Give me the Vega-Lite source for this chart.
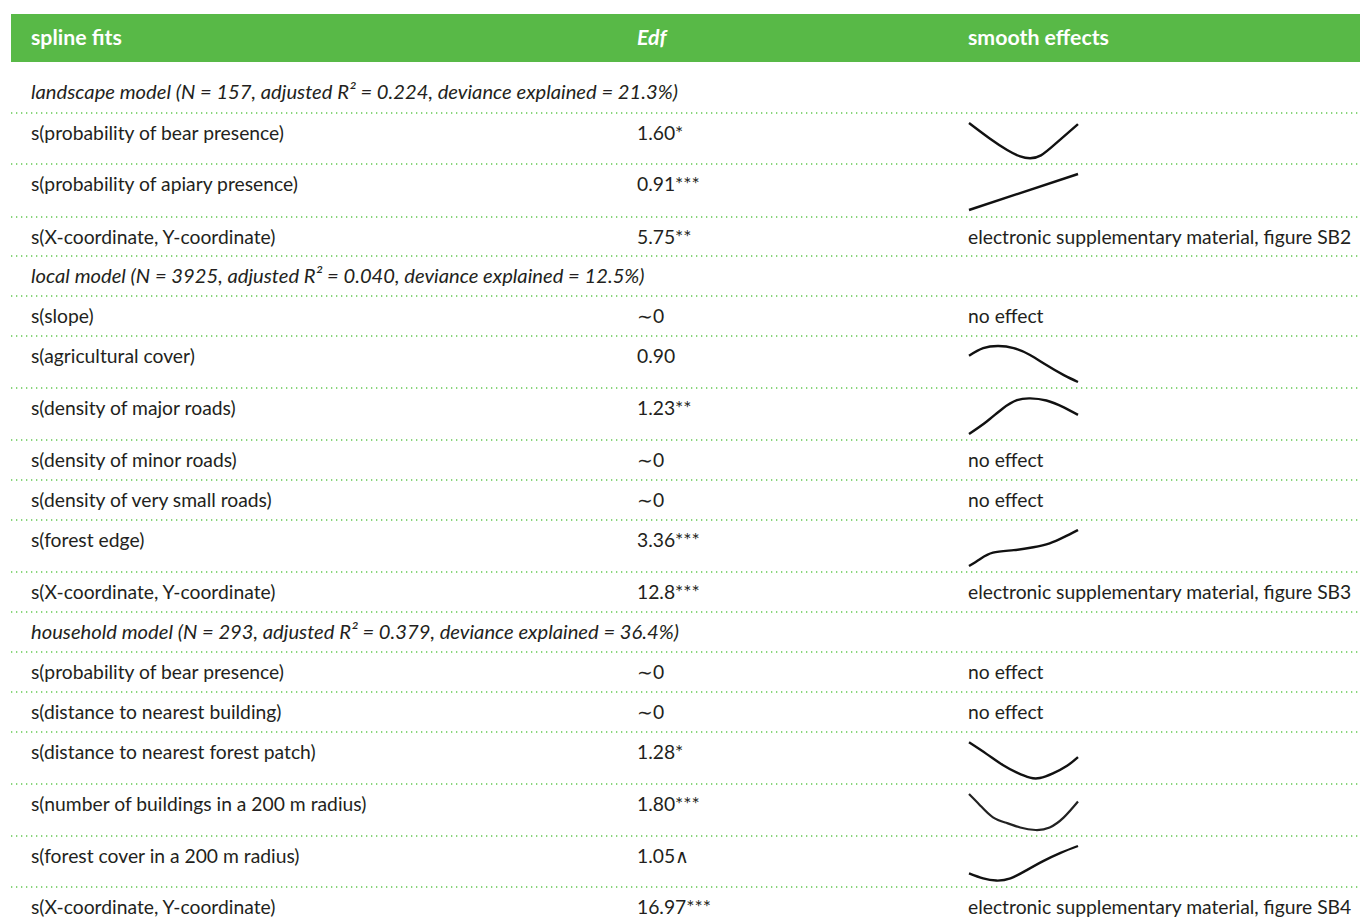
{
  "$schema": "https://vega.github.io/schema/vega-lite/v6.json",
  "width": 1360,
  "height": 921,
  "padding": 0,
  "autosize": {"type": "none"},
  "background": "white",
  "config": {
    "view": {"stroke": null},
    "text": {"font": "Liberation Sans Narrow, Lato, sans-serif", "fontSize": 19.3, "color": "#231f20", "align": "left", "baseline": "middle"},
    "line": {"color": "#111111", "strokeWidth": 2.4, "interpolate": "natural"}
  },
  "datasets": {
    "rows": [
      {"row": 0, "kind": "header", "label": "spline fits", "edf": "Edf", "effect": "smooth effects"},
      {"row": 1, "kind": "model", "label": "landscape model (N = 157, adjusted R² = 0.224, deviance explained = 21.3%)", "edf": "", "effect": ""},
      {"row": 2, "kind": "term", "label": "s(probability of bear presence)", "edf": "1.60*", "effect": ""},
      {"row": 3, "kind": "term", "label": "s(probability of apiary presence)", "edf": "0.91***", "effect": ""},
      {"row": 4, "kind": "term", "label": "s(X-coordinate, Y-coordinate)", "edf": "5.75**", "effect": "electronic supplementary material, figure SB2"},
      {"row": 5, "kind": "model", "label": "local model (N = 3925, adjusted R² = 0.040, deviance explained = 12.5%)", "edf": "", "effect": ""},
      {"row": 6, "kind": "term", "label": "s(slope)", "edf": "∼0", "effect": "no effect"},
      {"row": 7, "kind": "term", "label": "s(agricultural cover)", "edf": "0.90", "effect": ""},
      {"row": 8, "kind": "term", "label": "s(density of major roads)", "edf": "1.23**", "effect": ""},
      {"row": 9, "kind": "term", "label": "s(density of minor roads)", "edf": "∼0", "effect": "no effect"},
      {"row": 10, "kind": "term", "label": "s(density of very small roads)", "edf": "∼0", "effect": "no effect"},
      {"row": 11, "kind": "term", "label": "s(forest edge)", "edf": "3.36***", "effect": ""},
      {"row": 12, "kind": "term", "label": "s(X-coordinate, Y-coordinate)", "edf": "12.8***", "effect": "electronic supplementary material, figure SB3"},
      {"row": 13, "kind": "model", "label": "household model (N = 293, adjusted R² = 0.379, deviance explained = 36.4%)", "edf": "", "effect": ""},
      {"row": 14, "kind": "term", "label": "s(probability of bear presence)", "edf": "∼0", "effect": "no effect"},
      {"row": 15, "kind": "term", "label": "s(distance to nearest building)", "edf": "∼0", "effect": "no effect"},
      {"row": 16, "kind": "term", "label": "s(distance to nearest forest patch)", "edf": "1.28*", "effect": ""},
      {"row": 17, "kind": "term", "label": "s(number of buildings in a 200 m radius)", "edf": "1.80***", "effect": ""},
      {"row": 18, "kind": "term", "label": "s(forest cover in a 200 m radius)", "edf": "1.05∧", "effect": ""},
      {"row": 19, "kind": "term", "label": "s(X-coordinate, Y-coordinate)", "edf": "16.97***", "effect": "electronic supplementary material, figure SB4"}
    ],
    "curves": [
      {"row": 2, "t": 0.0, "f": 1.0}, {"row": 2, "t": 0.19, "f": 0.57}, {"row": 2, "t": 0.35, "f": 0.25}, {"row": 2, "t": 0.47, "f": 0.07}, {"row": 2, "t": 0.56, "f": 0.02}, {"row": 2, "t": 0.66, "f": 0.1}, {"row": 2, "t": 0.8, "f": 0.44}, {"row": 2, "t": 1.0, "f": 0.97},
      {"row": 3, "t": 0.0, "f": 0.0}, {"row": 3, "t": 1.0, "f": 1.0},
      {"row": 7, "t": 0.0, "f": 0.73}, {"row": 7, "t": 0.13, "f": 0.94}, {"row": 7, "t": 0.27, "f": 1.0}, {"row": 7, "t": 0.41, "f": 0.94}, {"row": 7, "t": 0.56, "f": 0.75}, {"row": 7, "t": 0.71, "f": 0.47}, {"row": 7, "t": 0.87, "f": 0.19}, {"row": 7, "t": 1.0, "f": 0.0},
      {"row": 8, "t": 0.0, "f": 0.0}, {"row": 8, "t": 0.16, "f": 0.34}, {"row": 8, "t": 0.31, "f": 0.71}, {"row": 8, "t": 0.44, "f": 0.94}, {"row": 8, "t": 0.56, "f": 0.99}, {"row": 8, "t": 0.71, "f": 0.93}, {"row": 8, "t": 0.87, "f": 0.74}, {"row": 8, "t": 1.0, "f": 0.53},
      {"row": 11, "t": 0.0, "f": 0.0}, {"row": 11, "t": 0.1, "f": 0.19}, {"row": 11, "t": 0.22, "f": 0.37}, {"row": 11, "t": 0.41, "f": 0.44}, {"row": 11, "t": 0.59, "f": 0.52}, {"row": 11, "t": 0.74, "f": 0.63}, {"row": 11, "t": 0.87, "f": 0.8}, {"row": 11, "t": 1.0, "f": 1.0},
      {"row": 16, "t": 0.0, "f": 0.99}, {"row": 16, "t": 0.16, "f": 0.67}, {"row": 16, "t": 0.31, "f": 0.36}, {"row": 16, "t": 0.44, "f": 0.15}, {"row": 16, "t": 0.56, "f": 0.01}, {"row": 16, "t": 0.65, "f": 0.0}, {"row": 16, "t": 0.77, "f": 0.13}, {"row": 16, "t": 0.9, "f": 0.34}, {"row": 16, "t": 1.0, "f": 0.58},
      {"row": 17, "t": 0.0, "f": 1.0}, {"row": 17, "t": 0.1, "f": 0.69}, {"row": 17, "t": 0.22, "f": 0.35}, {"row": 17, "t": 0.35, "f": 0.19}, {"row": 17, "t": 0.47, "f": 0.07}, {"row": 17, "t": 0.61, "f": 0.0}, {"row": 17, "t": 0.74, "f": 0.07}, {"row": 17, "t": 0.87, "f": 0.35}, {"row": 17, "t": 1.0, "f": 0.79},
      {"row": 18, "t": 0.0, "f": 0.24}, {"row": 18, "t": 0.13, "f": 0.1}, {"row": 18, "t": 0.25, "f": 0.04}, {"row": 18, "t": 0.38, "f": 0.1}, {"row": 18, "t": 0.53, "f": 0.33}, {"row": 18, "t": 0.68, "f": 0.58}, {"row": 18, "t": 0.84, "f": 0.81}, {"row": 18, "t": 1.0, "f": 1.0}
    ]
  },
  "resolve": {"scale": {"y": "independent"}},
  "layer": [
    {
      "data": {"name": "rows"},
      "layer": [
        {
          "transform": [{"filter": "datum.kind === 'header'"}],
          "mark": {"type": "rect", "color": "#58b947"},
          "encoding": {
            "x": {"datum": 0, "type": "quantitative", "scale": {"domain": [0, 1, 2, 3], "range": [11, 617, 948, 1360]}, "axis": null},
            "x2": {"datum": 3},
            "y": {"field": "row", "type": "quantitative", "scale": {"domain": [0, 0.83, 1, 2, 3, 4, 5, 6, 7, 8, 9, 10, 11, 12, 13, 14, 15, 16, 17, 18, 19, 20], "range": [14, 62, 72, 113, 164, 217, 256, 296, 336, 388, 440, 480, 520, 572, 612, 652, 692, 732, 784, 836, 887, 927]}, "axis": null},
            "y2": {"datum": 0.83}
          }
        },
        {
          "transform": [{"filter": "datum.kind === 'header'"}],
          "mark": {"type": "text", "color": "white", "fontWeight": "bold", "fontSize": 21.3, "dx": 20, "dy": 25},
          "encoding": {
            "x": {"datum": 0, "type": "quantitative"},
            "y": {"field": "row", "type": "quantitative"},
            "text": {"field": "label"}
          }
        },
        {
          "transform": [{"filter": "datum.kind === 'header'"}],
          "mark": {"type": "text", "color": "white", "fontWeight": "bold", "fontStyle": "italic", "fontSize": 21.3, "dx": 20, "dy": 25},
          "encoding": {
            "x": {"datum": 1, "type": "quantitative"},
            "y": {"field": "row", "type": "quantitative"},
            "text": {"field": "edf"}
          }
        },
        {
          "transform": [{"filter": "datum.kind === 'header'"}],
          "mark": {"type": "text", "color": "white", "fontWeight": "bold", "fontSize": 21.3, "dx": 20, "dy": 25},
          "encoding": {
            "x": {"datum": 2, "type": "quantitative"},
            "y": {"field": "row", "type": "quantitative"},
            "text": {"field": "effect"}
          }
        },
        {
          "transform": [{"filter": "datum.row >= 2"}],
          "mark": {"type": "rule", "color": "#62c750", "strokeWidth": 1.3, "strokeDash": [1.3, 3.7]},
          "encoding": {
            "x": {"datum": 0, "type": "quantitative"},
            "x2": {"datum": 3},
            "y": {"field": "row", "type": "quantitative"}
          }
        },
        {
          "transform": [{"filter": "datum.kind === 'model'"}],
          "mark": {"type": "text", "fontStyle": "italic", "fontSize": 20.2, "dx": 20, "dy": 21},
          "encoding": {
            "x": {"datum": 0, "type": "quantitative"},
            "y": {"field": "row", "type": "quantitative"},
            "text": {"field": "label"}
          }
        },
        {
          "transform": [{"filter": "datum.kind === 'term'"}],
          "mark": {"type": "text", "dx": 20, "dy": 21},
          "encoding": {
            "x": {"datum": 0, "type": "quantitative"},
            "y": {"field": "row", "type": "quantitative"},
            "text": {"field": "label"}
          }
        },
        {
          "transform": [{"filter": "datum.kind === 'term'"}],
          "mark": {"type": "text", "dx": 20, "dy": 21},
          "encoding": {
            "x": {"datum": 1, "type": "quantitative"},
            "y": {"field": "row", "type": "quantitative"},
            "text": {"field": "edf"}
          }
        },
        {
          "transform": [{"filter": "datum.kind === 'term' && datum.effect !== ''"}],
          "mark": {"type": "text", "dx": 20, "dy": 21},
          "encoding": {
            "x": {"datum": 2, "type": "quantitative"},
            "y": {"field": "row", "type": "quantitative"},
            "text": {"field": "effect"}
          }
        }
      ]
    },
    {
      "data": {"name": "curves"},
      "transform": [{"filter": "datum.row === 2"}],
      "mark": {"type": "line"},
      "encoding": {
        "x": {"datum": 2, "type": "quantitative"},
        "xOffset": {"field": "t", "type": "quantitative", "scale": {"domain": [0, 1], "range": [21, 130]}},
        "y": {"field": "f", "type": "quantitative", "scale": {"domain": [0, 1], "range": [159, 123]}, "axis": null},
        "order": {"field": "t", "type": "quantitative"}
      }
    },
    {
      "data": {"name": "curves"},
      "transform": [{"filter": "datum.row === 3"}],
      "mark": {"type": "line"},
      "encoding": {
        "x": {"datum": 2, "type": "quantitative"},
        "xOffset": {"field": "t", "type": "quantitative", "scale": {"domain": [0, 1], "range": [21, 130]}},
        "y": {"field": "f", "type": "quantitative", "scale": {"domain": [0, 1], "range": [210, 174]}, "axis": null},
        "order": {"field": "t", "type": "quantitative"}
      }
    },
    {
      "data": {"name": "curves"},
      "transform": [{"filter": "datum.row === 7"}],
      "mark": {"type": "line"},
      "encoding": {
        "x": {"datum": 2, "type": "quantitative"},
        "xOffset": {"field": "t", "type": "quantitative", "scale": {"domain": [0, 1], "range": [21, 130]}},
        "y": {"field": "f", "type": "quantitative", "scale": {"domain": [0, 1], "range": [382, 346]}, "axis": null},
        "order": {"field": "t", "type": "quantitative"}
      }
    },
    {
      "data": {"name": "curves"},
      "transform": [{"filter": "datum.row === 8"}],
      "mark": {"type": "line"},
      "encoding": {
        "x": {"datum": 2, "type": "quantitative"},
        "xOffset": {"field": "t", "type": "quantitative", "scale": {"domain": [0, 1], "range": [21, 130]}},
        "y": {"field": "f", "type": "quantitative", "scale": {"domain": [0, 1], "range": [434, 398]}, "axis": null},
        "order": {"field": "t", "type": "quantitative"}
      }
    },
    {
      "data": {"name": "curves"},
      "transform": [{"filter": "datum.row === 11"}],
      "mark": {"type": "line"},
      "encoding": {
        "x": {"datum": 2, "type": "quantitative"},
        "xOffset": {"field": "t", "type": "quantitative", "scale": {"domain": [0, 1], "range": [21, 130]}},
        "y": {"field": "f", "type": "quantitative", "scale": {"domain": [0, 1], "range": [566, 530]}, "axis": null},
        "order": {"field": "t", "type": "quantitative"}
      }
    },
    {
      "data": {"name": "curves"},
      "transform": [{"filter": "datum.row === 16"}],
      "mark": {"type": "line"},
      "encoding": {
        "x": {"datum": 2, "type": "quantitative"},
        "xOffset": {"field": "t", "type": "quantitative", "scale": {"domain": [0, 1], "range": [21, 130]}},
        "y": {"field": "f", "type": "quantitative", "scale": {"domain": [0, 1], "range": [778, 742]}, "axis": null},
        "order": {"field": "t", "type": "quantitative"}
      }
    },
    {
      "data": {"name": "curves"},
      "transform": [{"filter": "datum.row === 17"}],
      "mark": {"type": "line", "color": "#222222", "strokeWidth": 2.2},
      "encoding": {
        "x": {"datum": 2, "type": "quantitative"},
        "xOffset": {"field": "t", "type": "quantitative", "scale": {"domain": [0, 1], "range": [21, 130]}},
        "y": {"field": "f", "type": "quantitative", "scale": {"domain": [0, 1], "range": [830, 794]}, "axis": null},
        "order": {"field": "t", "type": "quantitative"}
      }
    },
    {
      "data": {"name": "curves"},
      "transform": [{"filter": "datum.row === 18"}],
      "mark": {"type": "line"},
      "encoding": {
        "x": {"datum": 2, "type": "quantitative"},
        "xOffset": {"field": "t", "type": "quantitative", "scale": {"domain": [0, 1], "range": [21, 130]}},
        "y": {"field": "f", "type": "quantitative", "scale": {"domain": [0, 1], "range": [882, 846]}, "axis": null},
        "order": {"field": "t", "type": "quantitative"}
      }
    }
  ]
}
